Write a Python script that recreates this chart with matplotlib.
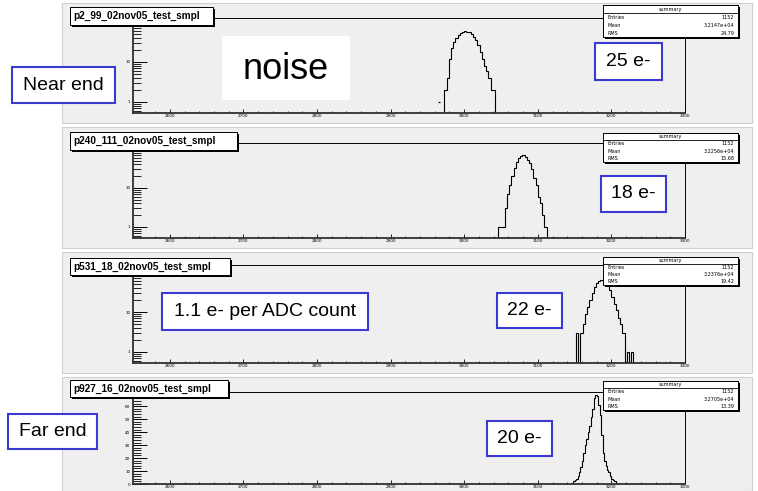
import numpy as np
import matplotlib.pyplot as plt
from matplotlib.patches import Rectangle
from matplotlib.ticker import LogLocator, MultipleLocator, NullFormatter, FixedLocator

W, H = 758, 491

# ---- data ----
titles = ["p2_99_02nov05_test_smpl", "p240_111_02nov05_test_smpl",
          "p531_18_02nov05_test_smpl", "p927_16_02nov05_test_smpl"]

first_edge = [2973, 3046, 3152, 3146]
bin_width = [3, 3, 3, 2]

counts_near = [2, 4, 12, 22, 31, 40, 46, 52, 55, 58, 57, 55, 51, 43, 35, 26,
               18, 12, 8, 6, 4, 2, 2]
counts_p240 = [1, 1, 1, 3, 7, 12, 20, 33, 45, 58, 66, 70, 63, 52, 44, 30, 18,
               12, 6, 4, 2, 1]
counts_p531 = [3, 0, 3, 5, 9, 13, 20, 30, 42, 53, 60, 63, 62, 58, 48, 36, 24,
               16, 11, 7, 5, 3, 0, 1, 0, 1]
counts_far = [1, 2, 3, 4, 6, 9, 13, 18, 24, 30, 35, 40, 45, 52, 58, 66, 69,
              68, 61, 53, 38, 24, 18, 14, 11, 9, 6, 4, 3, 2, 1]
all_counts = [counts_near, counts_p240, counts_p531, counts_far]

# lone entries away from the peak (drawn as a short dash)
stray_lo = [2964]
stray_cnt = [1]

entries = ["1152", "1152", "1152", "1152"]
means = ["3.2147e+04", "3.2256e+04", "3.2376e+04", "3.2705e+04"]
rms = ["24.79", "15.68", "19.42", "13.39"]

x_ticks = [2600, 2700, 2800, 2900, 3000, 3100, 3200, 3300]
lin_y_ticks = [0, 10, 20, 30, 40, 50, 60]
log_panel = [True, True, True, False]

# ---- layout (pixels) ----
pad_top = [3, 127, 252, 377]
pad_bot = [123, 248, 373, 491]
frame_top = [18, 143, 265, 392]
frame_bot = [113, 238, 363, 484]
title_box = [(70, 7, 213, 25), (70, 132, 237, 150), (70, 258, 230, 275), (70, 380, 228, 397)]
stats_top = [5, 133, 257, 381]
stats_bot = [37, 162, 285, 410]
ylims = [(0.53, 126), (0.52, 142), (0.53, 150), (0, 71)]

notes = [("Near end", 12, 67, 115, 103), ("25 e-", 595, 43, 662, 80),
         ("18 e-", 601, 176, 666, 212), ("1.1 e- per ADC count", 162, 293, 368, 330),
         ("22 e-", 497, 293, 562, 328), ("Far end", 8, 414, 97, 449),
         ("20 e-", 487, 421, 552, 456)]

fig = plt.figure(figsize=(W / 100, H / 100), dpi=100)
fig.patch.set_facecolor("white")

bg = fig.add_axes([0, 0, 1, 1], zorder=0)
bg.set_xlim(0, W)
bg.set_ylim(H, 0)
bg.axis("off")

ov = fig.add_axes([0, 0, 1, 1], zorder=10)
ov.set_xlim(0, W)
ov.set_ylim(H, 0)
ov.axis("off")
ov.patch.set_alpha(0)

for i in range(4):
    # grey pad
    bg.add_patch(Rectangle((62, pad_top[i]), 690, pad_bot[i] - pad_top[i],
                           facecolor="#efefef", edgecolor="#d0d0d0", lw=0.8))

    l, r, t, b = 133, 685, frame_top[i], frame_bot[i]
    ax = fig.add_axes([l / W, 1 - b / H, (r - l) / W, (b - t) / H], zorder=5)
    ax.patch.set_alpha(0)

    c = np.array(all_counts[i], dtype=float)
    edges = first_edge[i] + bin_width[i] * np.arange(len(c) + 1)
    if log_panel[i]:
        ax.set_yscale("log")
        ax.yaxis.set_major_locator(FixedLocator([1, 10, 100]))
        ax.yaxis.set_minor_locator(LogLocator(base=10, subs=np.arange(2, 10)))
        ax.yaxis.set_minor_formatter(NullFormatter())
        ax.set_yticklabels(["1", "10", "100"])
    else:
        ax.yaxis.set_major_locator(FixedLocator(lin_y_ticks))
        ax.yaxis.set_minor_locator(MultipleLocator(2))
    ax.set_ylim(*ylims[i])
    ax.set_xlim(2550, 3300)
    ax.stairs(c, edges, baseline=ylims[i][0] if log_panel[i] else 0,
              color="black", lw=0.8)
    if i == 0:
        ax.hlines(stray_cnt, stray_lo, [s + bin_width[0] for s in stray_lo],
                  color="black", lw=0.8)

    ax.set_xticks(x_ticks)
    ax.xaxis.set_minor_locator(MultipleLocator(20))
    ax.tick_params(axis="x", which="major", direction="in", length=3, width=0.6,
                   labelsize=3, pad=1)
    ax.tick_params(axis="x", which="minor", direction="in", length=1.5, width=0.5)
    ax.tick_params(axis="y", which="major", direction="in", length=10, width=0.7,
                   labelsize=3, pad=2)
    ax.tick_params(axis="y", which="minor", direction="in", length=6, width=0.6)
    for s in ["left", "bottom"]:
        ax.spines[s].set_linewidth(1.3)
        ax.spines[s].set_color("#303030")
    for s in ["top", "right"]:
        ax.spines[s].set_linewidth(0.7)
        ax.spines[s].set_color("black")

    # title box with shadow
    tl, tt, tr, tb = title_box[i]
    ov.add_patch(Rectangle((tl + 2, tt + 2), tr - tl, tb - tt, facecolor="black", lw=0))
    ov.add_patch(Rectangle((tl, tt), tr - tl, tb - tt, facecolor="white",
                           edgecolor="black", lw=0.7))
    ov.text(tl + 3, (tt + tb) / 2, titles[i], fontsize=7.2, fontweight="bold",
            family="Liberation Sans", va="center", ha="left")

    # stats box with shadow
    sl, sr, st, sb = 603, 738, stats_top[i], stats_bot[i]
    ov.add_patch(Rectangle((sl + 2, st + 2), sr - sl, sb - st, facecolor="black", lw=0))
    ov.add_patch(Rectangle((sl, st), sr - sl, sb - st, facecolor="white",
                           edgecolor="black", lw=0.7))
    hh = (sb - st) / 4
    ov.plot([sl, sr], [st + hh, st + hh], color="black", lw=0.6)
    ov.text((sl + sr) / 2, st + hh / 2, "summary", fontsize=3.5, ha="center", va="center")
    for k, (lab, val) in enumerate([("Entries", entries[i]), ("Mean", means[i]),
                                    ("RMS", rms[i])]):
        y = st + hh * (k + 1.5)
        ov.text(sl + 5, y, lab, fontsize=3.5, ha="left", va="center")
        ov.text(sr - 4, y, val, fontsize=3.5, ha="right", va="center")

# "noise" label
ov.add_patch(Rectangle((222, 36), 128, 64, facecolor="white", lw=0))
ov.text(286, 69, "noise", fontsize=26, family="Liberation Sans", ha="center", va="center")

for txt, l, t, r, b in notes:
    ov.add_patch(Rectangle((l, t), r - l, b - t, facecolor="white",
                           edgecolor="#3a3ad0", lw=1.5))
    ov.text((l + r) / 2, (t + b) / 2, txt, fontsize=14, family="Liberation Sans",
            ha="center", va="center")

fig.savefig("out.png", dpi=100)
